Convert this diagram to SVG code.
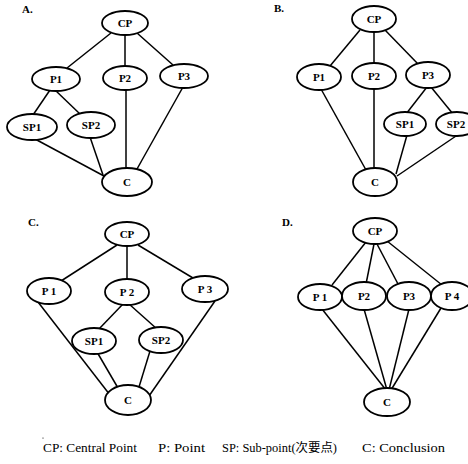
<svg xmlns="http://www.w3.org/2000/svg" width="468" height="464" viewBox="0 0 468 464">
<style>
.e{fill:#fff;stroke:#000;stroke-width:1.8}
.l{stroke:#000;stroke-width:1.5;fill:none}
.t{font-family:"Liberation Serif","Times New Roman",serif;font-weight:bold;font-size:11px;text-anchor:middle;fill:#000}
.h{font-family:"Liberation Serif","Times New Roman",serif;font-weight:bold;font-size:11px;fill:#000}
.g{font-family:"Liberation Serif","Times New Roman","Noto Sans CJK SC",serif;font-size:12px;fill:#000}
</style>
<rect width="468" height="464" fill="#fff"/>
<g id="connectors">
<!-- A -->
<line class="l" x1="111" y1="33" x2="67" y2="68"/>
<line class="l" x1="125" y1="35" x2="125" y2="66"/>
<line class="l" x1="137" y1="33" x2="173" y2="65"/>
<line class="l" x1="50" y1="90" x2="33" y2="115"/>
<line class="l" x1="55" y1="90" x2="80" y2="114"/>
<line class="l" x1="35" y1="139" x2="104" y2="176"/>
<line class="l" x1="90" y1="137" x2="103" y2="175"/>
<line class="l" x1="126" y1="89" x2="126" y2="169"/>
<line class="l" x1="183" y1="87" x2="137" y2="169"/>
<!-- B -->
<line class="l" x1="360" y1="30" x2="330" y2="66"/>
<line class="l" x1="374" y1="32" x2="374" y2="63"/>
<line class="l" x1="385" y1="30" x2="418" y2="64"/>
<line class="l" x1="321" y1="89" x2="366" y2="170"/>
<line class="l" x1="374" y1="89" x2="374" y2="168"/>
<line class="l" x1="427" y1="87" x2="406" y2="114"/>
<line class="l" x1="431" y1="87" x2="453" y2="114"/>
<line class="l" x1="407" y1="135" x2="396" y2="174"/>
<line class="l" x1="459" y1="134" x2="397" y2="176"/>
<!-- C -->
<line class="l" x1="117" y1="245" x2="61" y2="281"/>
<line class="l" x1="127" y1="246" x2="127" y2="279"/>
<line class="l" x1="138" y1="245" x2="193" y2="278"/>
<line class="l" x1="123" y1="304" x2="98" y2="330"/>
<line class="l" x1="129" y1="304" x2="157" y2="329"/>
<line class="l" x1="38" y1="302" x2="110" y2="395"/>
<line class="l" x1="97" y1="352" x2="118" y2="388"/>
<line class="l" x1="150" y1="351" x2="139" y2="387"/>
<line class="l" x1="215" y1="301" x2="149" y2="396"/>
<!-- D -->
<line class="l" x1="366" y1="242" x2="332" y2="285"/>
<line class="l" x1="374" y1="244" x2="366" y2="284"/>
<line class="l" x1="377" y1="244" x2="398" y2="284"/>
<line class="l" x1="387" y1="241" x2="442" y2="285"/>
<line class="l" x1="322" y1="309" x2="386" y2="390"/>
<line class="l" x1="364" y1="309" x2="387" y2="390"/>
<line class="l" x1="409" y1="309" x2="389" y2="390"/>
<line class="l" x1="441" y1="308" x2="391" y2="390"/>
</g>
<g id="panel-labels">
<text class="h" x="22" y="13">A.</text>
<text class="h" x="274" y="12">B.</text>
<text class="h" x="28" y="226">C.</text>
<text class="h" x="282" y="226">D.</text>
</g>
<g id="A-CP"><ellipse class="e" cx="125" cy="23" rx="23" ry="12"/><text class="t" x="125" y="27">CP</text></g>
<g id="A-P1"><ellipse class="e" cx="56" cy="79" rx="24" ry="12"/><text class="t" x="56" y="83">P1</text></g>
<g id="A-P2"><ellipse class="e" cx="125" cy="78" rx="22" ry="12"/><text class="t" x="125" y="82">P2</text></g>
<g id="A-P3"><ellipse class="e" cx="184" cy="76" rx="24" ry="12"/><text class="t" x="184" y="80">P3</text></g>
<g id="A-SP1"><ellipse class="e" cx="32" cy="127" rx="25" ry="13"/><text class="t" x="32" y="131">SP1</text></g>
<g id="A-SP2"><ellipse class="e" cx="91" cy="125" rx="24" ry="13"/><text class="t" x="91" y="129">SP2</text></g>
<g id="A-C"><ellipse class="e" cx="127" cy="182" rx="25" ry="14"/><text class="t" x="127" y="186">C</text></g>

<g id="B-CP"><ellipse class="e" cx="374" cy="19" rx="22" ry="13"/><text class="t" x="374" y="23">CP</text></g>
<g id="B-P1"><ellipse class="e" cx="319" cy="77" rx="22" ry="13"/><text class="t" x="319" y="81">P1</text></g>
<g id="B-P2"><ellipse class="e" cx="374" cy="76" rx="22" ry="13"/><text class="t" x="374" y="80">P2</text></g>
<g id="B-P3"><ellipse class="e" cx="428" cy="75" rx="22" ry="13"/><text class="t" x="428" y="79">P3</text></g>
<g id="B-SP1"><ellipse class="e" cx="405" cy="124" rx="21" ry="12"/><text class="t" x="405" y="128">SP1</text></g>
<g id="B-SP2"><ellipse class="e" cx="457" cy="124" rx="21" ry="12"/><text class="t" x="456" y="128">SP2</text></g>
<g id="B-C"><ellipse class="e" cx="375" cy="182" rx="22" ry="14"/><text class="t" x="375" y="186">C</text></g>

<g id="C-CP"><ellipse class="e" cx="127" cy="234" rx="22" ry="12"/><text class="t" x="127" y="238">CP</text></g>
<g id="C-P1"><ellipse class="e" cx="49" cy="291" rx="22" ry="13"/><text class="t" x="49" y="295">P 1</text></g>
<g id="C-P2"><ellipse class="e" cx="127" cy="292" rx="22" ry="13"/><text class="t" x="127" y="296">P 2</text></g>
<g id="C-P3"><ellipse class="e" cx="205" cy="289" rx="23" ry="13"/><text class="t" x="205" y="293">P 3</text></g>
<g id="C-SP1"><ellipse class="e" cx="94" cy="341" rx="22" ry="13"/><text class="t" x="94" y="345">SP1</text></g>
<g id="C-SP2"><ellipse class="e" cx="161" cy="340" rx="22" ry="13"/><text class="t" x="161" y="344">SP2</text></g>
<g id="C-C"><ellipse class="e" cx="128" cy="400" rx="23" ry="15"/><text class="t" x="128" y="404">C</text></g>

<g id="D-CP"><ellipse class="e" cx="375" cy="231" rx="22" ry="13"/><text class="t" x="375" y="235">CP</text></g>
<g id="D-P1"><ellipse class="e" cx="320" cy="297" rx="22" ry="13"/><text class="t" x="320" y="301">P 1</text></g>
<g id="D-P2"><ellipse class="e" cx="364" cy="296" rx="22" ry="14"/><text class="t" x="364" y="300">P2</text></g>
<g id="D-P3"><ellipse class="e" cx="409" cy="296" rx="22" ry="14"/><text class="t" x="409" y="300">P3</text></g>
<g id="D-P4"><ellipse class="e" cx="452" cy="296" rx="21" ry="14"/><text class="t" x="452" y="300">P 4</text></g>
<g id="D-C"><ellipse class="e" cx="387" cy="402" rx="23" ry="14"/><text class="t" x="387" y="406">C</text></g>

<g id="legend">
<circle cx="43" cy="438" r="0.6" fill="#000"/>
<text class="g" x="43" y="452" textLength="94" lengthAdjust="spacingAndGlyphs">CP: Central Point</text>
<text class="g" x="158" y="452" textLength="47" lengthAdjust="spacingAndGlyphs">P: Point</text>
<text class="g" x="222" y="452" textLength="115" lengthAdjust="spacingAndGlyphs">SP: Sub-point(次要点)</text>
<text class="g" x="362" y="452" textLength="83" lengthAdjust="spacingAndGlyphs">C: Conclusion</text>
</g>
</svg>
